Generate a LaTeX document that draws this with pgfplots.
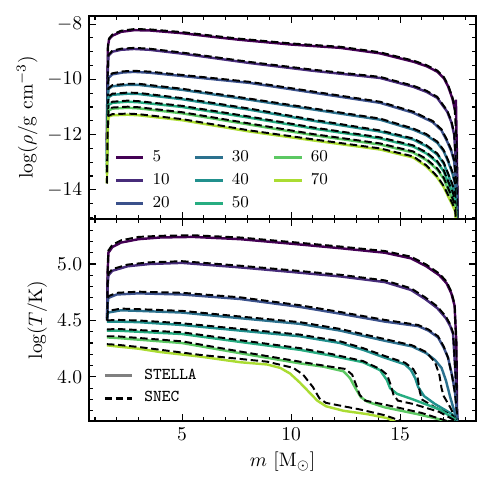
\documentclass[border=0pt]{standalone}
\usepackage{pgfplots}
\pgfplotsset{compat=1.18}

% viridis samples for the eight masses
\definecolor{c5}{RGB}{68,1,84}
\definecolor{c10}{RGB}{71,44,122}
\definecolor{c20}{RGB}{59,81,139}
\definecolor{c30}{RGB}{44,113,142}
\definecolor{c40}{RGB}{33,144,141}
\definecolor{c50}{RGB}{39,173,129}
\definecolor{c60}{RGB}{92,200,99}
\definecolor{c70}{RGB}{170,220,50}

\newcommand{\legfont}{\fontsize{8.5}{10}\selectfont}

\pgfplotsset{
  panel/.style={
    scale only axis, width=198.3pt,
    xmin=0.73, xmax=18.49,
    xtick={5,10,15}, minor xtick={1,2,...,18},
    tick align=inside, major tick length=3.5pt, minor tick length=2pt,
    every tick/.style={black, line width=0.6pt},
    axis line style={line width=0.8pt},
    clip=true,
    legend image code/.code={\draw[#1, line width=1.5pt] (0pt,0pt) -- (14pt,0pt);},
  },
  stella/.style={line width=1.25pt},
  snec/.style={black, line width=1.0pt, dash pattern=on 3.8pt off 1.9pt},
}

\begin{document}
\begin{tikzpicture}
\path[use as bounding box] (0,0) rectangle (252pt,252pt);

% ---------------- density ----------------
\begin{axis}[panel,
  at={(45.6pt,139.9pt)}, anchor=south west, height=104pt,
  ymin=-15.05, ymax=-7.7,
  ytick={-14,-12,-10,-8}, minor ytick={-15,-14.5,...,-8},
  xticklabels={},
  ylabel={$\log(\rho/\mathrm{g\ cm^{-3}})$},
  ylabel style={at={(axis description cs:-0.16,0.5)}, anchor=center},
  legend columns=3,
  legend cell align=left,
  legend style={at={(axis description cs:0.05,0.377)}, anchor=north west,
    draw=none, fill=none, font=\legfont, row sep=0.6pt,
    /tikz/every odd column/.append style={column sep=2pt},
    /tikz/every even column/.append style={column sep=4pt}},
]
\addlegendimage{c5}\addlegendentry{\makebox[15pt][l]{5}}
\addlegendimage{c30}\addlegendentry{\makebox[15pt][l]{30}}
\addlegendimage{c60}\addlegendentry{\makebox[15pt][l]{60}}
\addlegendimage{c10}\addlegendentry{\makebox[15pt][l]{10}}
\addlegendimage{c40}\addlegendentry{\makebox[15pt][l]{40}}
\addlegendimage{c70}\addlegendentry{\makebox[15pt][l]{70}}
\addlegendimage{c20}\addlegendentry{\makebox[15pt][l]{20}}
\addlegendimage{c50}\addlegendentry{\makebox[15pt][l]{50}}

% 5 Msun
\addplot[c5, stella, forget plot] coordinates {(1.55,-12.2)(1.57,-10.4)(1.60,-8.8)(1.65,-8.55)(1.8,-8.42)(2.2,-8.28)(2.8,-8.22)(3.5,-8.23)(5,-8.33)(6.5,-8.47)(7.66,-8.57)(10,-8.74)(12.25,-8.86)(14.08,-9.06)(15.6,-9.36)(16.2,-9.52)(16.7,-9.72)(17.0,-9.95)(17.2,-10.25)(17.4,-10.7)(17.5,-11.05)(17.56,-10.74)(17.6,-12.5)(17.65,-15.5)};
\addplot[snec, forget plot] coordinates {(1.55,-12.2)(1.57,-10.4)(1.60,-8.78)(1.65,-8.52)(1.8,-8.38)(2.2,-8.24)(2.8,-8.18)(3.5,-8.19)(5,-8.29)(6.5,-8.43)(7.66,-8.53)(10,-8.70)(12.25,-8.82)(14.08,-9.02)(15.6,-9.32)(16.2,-9.48)(16.7,-9.68)(17.0,-9.91)(17.2,-10.2)(17.4,-10.65)(17.5,-11.0)(17.6,-12.5)(17.65,-15.5)};
% 10 Msun
\addplot[c10, stella, forget plot] coordinates {(1.55,-12.4)(1.58,-10.0)(1.62,-9.15)(1.8,-9.0)(2.2,-8.93)(2.8,-8.9)(3.5,-8.93)(5,-9.07)(8.1,-9.41)(11,-9.69)(14.08,-9.95)(15.6,-10.27)(16.2,-10.45)(16.7,-10.67)(17.16,-11.17)(17.35,-11.55)(17.48,-12.0)(17.6,-13.5)(17.65,-15.5)};
\addplot[snec, forget plot] coordinates {(1.55,-12.4)(1.58,-10.0)(1.62,-9.12)(1.8,-8.96)(2.2,-8.89)(2.8,-8.86)(3.5,-8.89)(5,-9.03)(8.1,-9.37)(11,-9.65)(14.08,-9.91)(15.6,-10.23)(16.2,-10.41)(16.7,-10.63)(17.16,-11.13)(17.35,-11.5)(17.48,-11.95)(17.6,-13.5)(17.65,-15.5)};
% 20 Msun
\addplot[c20, stella, forget plot] coordinates {(1.55,-12.6)(1.58,-10.6)(1.62,-9.95)(1.8,-9.82)(2.3,-9.75)(2.8,-9.73)(3.5,-9.76)(5,-9.88)(8.1,-10.13)(11,-10.48)(14.08,-10.85)(15.6,-11.21)(16.5,-11.55)(16.9,-11.85)(17.16,-12.25)(17.35,-12.6)(17.48,-12.97)(17.6,-14.0)(17.65,-15.5)};
\addplot[snec, forget plot] coordinates {(1.55,-12.6)(1.58,-10.6)(1.62,-9.92)(1.8,-9.78)(2.3,-9.71)(2.8,-9.69)(3.5,-9.72)(5,-9.84)(8.1,-10.09)(11,-10.44)(14.08,-10.81)(15.6,-11.17)(16.5,-11.51)(16.9,-11.81)(17.16,-12.2)(17.35,-12.55)(17.48,-12.92)(17.6,-14.0)(17.65,-15.5)};
% 30 Msun
\addplot[c30, stella, forget plot] coordinates {(1.55,-12.8)(1.58,-11.0)(1.62,-10.35)(1.8,-10.25)(2.5,-10.2)(3.0,-10.2)(5,-10.38)(8.1,-10.74)(11,-11.09)(14.08,-11.46)(15.6,-11.82)(16.2,-12.02)(16.7,-12.29)(17.0,-12.6)(17.2,-12.97)(17.4,-13.4)(17.52,-13.8)(17.62,-15.5)};
\addplot[snec, forget plot] coordinates {(1.55,-12.8)(1.58,-11.0)(1.62,-10.32)(1.8,-10.21)(2.5,-10.16)(3.0,-10.16)(5,-10.34)(8.1,-10.70)(11,-11.05)(14.08,-11.42)(15.6,-11.78)(16.2,-11.98)(16.7,-12.25)(17.0,-12.56)(17.2,-12.92)(17.4,-13.35)(17.52,-13.75)(17.62,-15.5)};
% 40 Msun
\addplot[c40, stella, forget plot] coordinates {(1.55,-13.0)(1.58,-11.3)(1.62,-10.65)(1.8,-10.56)(2.5,-10.52)(3.0,-10.53)(5,-10.72)(8.1,-11.1)(11,-11.5)(14.08,-11.89)(15.6,-12.18)(16.2,-12.42)(16.7,-12.72)(17.0,-13.05)(17.2,-13.44)(17.4,-13.85)(17.52,-14.16)(17.62,-15.5)};
\addplot[snec, forget plot] coordinates {(1.55,-13.0)(1.58,-11.3)(1.62,-10.62)(1.8,-10.52)(2.5,-10.48)(3.0,-10.49)(5,-10.68)(8.1,-11.06)(11,-11.46)(14.08,-11.85)(15.6,-12.14)(16.2,-12.38)(16.7,-12.68)(17.0,-13.01)(17.2,-13.4)(17.4,-13.8)(17.52,-14.11)(17.62,-15.5)};
% 50 Msun
\addplot[c50, stella, forget plot] coordinates {(1.55,-13.2)(1.58,-11.6)(1.62,-10.93)(1.8,-10.85)(2.5,-10.81)(3.0,-10.83)(5,-11.0)(8.1,-11.39)(11,-11.78)(14.08,-12.14)(15.6,-12.43)(16.2,-12.68)(16.7,-13.0)(17.0,-13.33)(17.2,-13.73)(17.4,-14.1)(17.52,-14.4)(17.62,-15.5)};
\addplot[snec, forget plot] coordinates {(1.55,-13.2)(1.58,-11.6)(1.62,-10.9)(1.8,-10.81)(2.5,-10.77)(3.0,-10.79)(5,-10.96)(8.1,-11.35)(11,-11.74)(14.08,-12.10)(15.6,-12.39)(16.2,-12.64)(16.7,-12.96)(17.0,-13.29)(17.2,-13.68)(17.4,-14.05)(17.52,-14.35)(17.62,-15.5)};
% 60 Msun
\addplot[c60, stella, forget plot] coordinates {(1.55,-13.4)(1.58,-11.8)(1.62,-11.13)(1.8,-11.06)(2.5,-11.03)(3.0,-11.05)(5,-11.23)(8.1,-11.64)(11,-12.02)(14.08,-12.36)(15.6,-12.65)(16.2,-12.92)(16.7,-13.26)(17.0,-13.6)(17.2,-13.98)(17.4,-14.35)(17.52,-14.6)(17.62,-15.5)};
\addplot[snec, forget plot] coordinates {(1.55,-13.4)(1.58,-11.8)(1.62,-11.1)(1.8,-11.02)(2.5,-10.99)(3.0,-11.01)(5,-11.19)(8.1,-11.60)(11,-11.98)(14.08,-12.32)(15.6,-12.61)(16.2,-12.88)(16.7,-13.22)(17.0,-13.56)(17.2,-13.93)(17.4,-14.3)(17.52,-14.55)(17.62,-15.5)};
% 70 Msun
\addplot[c70, stella, forget plot] coordinates {(1.55,-13.77)(1.58,-12.0)(1.62,-11.35)(1.8,-11.3)(2.5,-11.28)(3.0,-11.3)(5,-11.48)(8.1,-11.89)(11,-12.21)(14.08,-12.54)(15.6,-12.83)(16.2,-13.15)(16.7,-13.55)(17.0,-13.9)(17.2,-14.23)(17.4,-14.55)(17.52,-14.77)(17.62,-15.5)};
\addplot[snec, forget plot] coordinates {(1.55,-13.77)(1.58,-12.0)(1.62,-11.32)(1.8,-11.26)(2.5,-11.24)(3.0,-11.26)(5,-11.44)(8.1,-11.85)(11,-12.17)(14.08,-12.50)(15.6,-12.79)(16.2,-13.11)(16.7,-13.51)(17.0,-13.86)(17.2,-14.18)(17.4,-14.5)(17.52,-14.72)(17.62,-15.5)};
\end{axis}

% ---------------- temperature ----------------
\begin{axis}[panel,
  at={(45.6pt,36.4pt)}, anchor=south west, height=103.5pt,
  ymin=3.61, ymax=5.40,
  ytick={4.0,4.5,5.0}, minor ytick={3.7,3.8,...,5.35},
  yticklabel style={/pgf/number format/fixed, /pgf/number format/fixed zerofill, /pgf/number format/precision=1},
  xlabel={$m$ [M$_\odot$]},
  ylabel={$\log(T/\mathrm{K})$},
  ylabel style={at={(axis description cs:-0.134,0.5)}, anchor=center},
  xlabel style={at={(axis description cs:0.5,-0.2)}, anchor=center},
  legend cell align=left,
  legend style={at={(axis description cs:0.021,0.2985)}, anchor=north west,
    draw=none, fill=none, font=\legfont, row sep=0.8pt,
    /tikz/every odd column/.append style={column sep=3.5pt}},
]
\addlegendimage{gray}\addlegendentry{\texttt{STELLA}}
\addlegendimage{snec}\addlegendentry{\texttt{SNEC}}

% 5 Msun
\addplot[c5, stella, forget plot] coordinates {(1.56,4.52)(1.58,4.9)(1.62,5.1)(1.8,5.15)(2.2,5.19)(3,5.22)(4,5.235)(5.5,5.24)(7.66,5.22)(10,5.18)(12.25,5.14)(14.3,5.1)(15.5,5.05)(16.2,4.98)(16.8,4.9)(17.13,4.83)(17.35,4.74)(17.5,4.63)(17.58,4.3)(17.62,3.55)};
\addplot[snec, forget plot] coordinates {(1.56,4.52)(1.58,4.92)(1.62,5.12)(1.8,5.17)(2.2,5.21)(3,5.24)(4,5.25)(5.5,5.255)(7.66,5.235)(10,5.195)(12.25,5.155)(14.3,5.115)(15.5,5.065)(16.2,4.995)(16.8,4.915)(17.13,4.845)(17.35,4.755)(17.5,4.645)(17.58,4.3)(17.62,3.55)};
% 10 Msun
\addplot[c10, stella, forget plot] coordinates {(1.56,4.5)(1.58,4.8)(1.62,4.9)(1.8,4.94)(2.5,4.98)(3.5,5.0)(5,5.01)(7.66,4.97)(10,4.93)(12.25,4.89)(14.3,4.84)(15.5,4.77)(16.15,4.69)(16.7,4.61)(17.1,4.52)(17.3,4.45)(17.43,4.38)(17.55,4.0)(17.62,3.55)};
\addplot[snec, forget plot] coordinates {(1.56,4.5)(1.58,4.81)(1.62,4.915)(1.8,4.955)(2.5,4.995)(3.5,5.015)(5,5.025)(7.66,4.985)(10,4.945)(12.25,4.905)(14.3,4.855)(15.5,4.785)(16.15,4.705)(16.7,4.625)(17.1,4.535)(17.3,4.465)(17.43,4.39)(17.55,4.0)(17.62,3.55)};
% 20 Msun
\addplot[c20, stella, forget plot] coordinates {(1.56,4.5)(1.58,4.65)(1.62,4.7)(2,4.73)(3,4.74)(5,4.73)(7.66,4.69)(10.4,4.62)(12.25,4.56)(14.3,4.49)(15.83,4.45)(16.3,4.41)(16.74,4.35)(17.0,4.26)(17.2,4.17)(17.4,4.0)(17.52,3.86)(17.66,3.58)};
\addplot[snec, forget plot] coordinates {(1.56,4.5)(1.58,4.66)(1.62,4.715)(2,4.745)(3,4.755)(5,4.745)(7.66,4.705)(10.4,4.635)(12.25,4.575)(14.3,4.505)(15.83,4.46)(16.3,4.42)(16.74,4.36)(17.0,4.27)(17.2,4.17)(17.4,3.99)(17.52,3.85)(17.66,3.58)};
% 30 Msun
\addplot[c30, stella, forget plot] coordinates {(1.56,4.52)(1.6,4.57)(2.2,4.59)(3,4.585)(5,4.57)(7.66,4.52)(10.4,4.47)(12.25,4.41)(14.3,4.32)(15.55,4.27)(16.2,4.21)(16.6,4.15)(16.9,4.08)(17.1,3.97)(17.3,3.82)(17.45,3.72)(17.62,3.6)};
\addplot[snec, forget plot] coordinates {(1.56,4.52)(1.6,4.585)(2.2,4.605)(3,4.6)(5,4.585)(7.66,4.535)(10.4,4.485)(12.25,4.425)(14.3,4.335)(15.55,4.28)(16.2,4.22)(16.6,4.13)(16.8,4.02)(16.9,3.9)(17.0,3.83)(17.3,3.73)(17.62,3.6)};
% 40 Msun
\addplot[c40, stella, forget plot] coordinates {(1.55,4.49)(2,4.49)(3,4.485)(5,4.46)(7.66,4.41)(10.4,4.36)(12.25,4.30)(13.3,4.24)(14.3,4.17)(15.23,4.11)(15.5,4.06)(15.69,3.99)(15.83,3.91)(16.1,3.83)(16.6,3.76)(17.39,3.67)(17.62,3.6)};
\addplot[snec, forget plot] coordinates {(1.55,4.50)(2,4.505)(3,4.5)(5,4.475)(7.66,4.425)(10.4,4.375)(12.25,4.315)(13.3,4.255)(14.3,4.185)(15.23,4.125)(15.6,4.07)(15.8,4.0)(15.9,3.87)(16.0,3.8)(16.6,3.73)(17.4,3.66)(17.62,3.6)};
% 50 Msun
\addplot[c50, stella, forget plot] coordinates {(1.55,4.41)(2,4.41)(3,4.40)(5,4.38)(7.66,4.31)(10.4,4.24)(11.8,4.19)(13.3,4.13)(14.08,4.06)(14.4,3.97)(14.54,3.90)(14.86,3.85)(15.6,3.80)(16.83,3.71)(17.55,3.62)};
\addplot[snec, forget plot] coordinates {(1.55,4.42)(2,4.425)(3,4.415)(5,4.395)(7.66,4.325)(10.4,4.255)(11.8,4.205)(13.3,4.14)(14.08,4.07)(14.4,4.02)(14.55,3.94)(14.7,3.84)(14.9,3.79)(15.6,3.76)(16.8,3.69)(17.55,3.61)};
% 60 Msun
\addplot[c60, stella, forget plot] coordinates {(1.55,4.35)(2,4.345)(3,4.33)(5,4.30)(7.66,4.21)(10.4,4.12)(11.5,4.09)(12.4,4.05)(12.7,3.99)(12.95,3.9)(13.2,3.82)(13.5,3.78)(14.3,3.73)(15.8,3.67)(16.9,3.62)(17.2,3.6)};
\addplot[snec, forget plot] coordinates {(1.55,4.36)(2,4.36)(3,4.345)(5,4.315)(7.66,4.225)(10.4,4.135)(11.5,4.1)(12.5,4.07)(12.8,4.02)(13.0,3.92)(13.15,3.84)(13.4,3.79)(14.4,3.75)(16.0,3.68)(17.3,3.6)};
% 70 Msun
\addplot[c70, stella, forget plot] coordinates {(1.55,4.28)(2,4.27)(3,4.25)(4,4.22)(5.83,4.18)(7.66,4.13)(8.9,4.11)(9.5,4.08)(9.95,4.03)(10.4,3.95)(10.8,3.87)(11.2,3.79)(11.6,3.74)(12.4,3.70)(13.5,3.67)(14.4,3.635)(14.8,3.6)};
\addplot[snec, forget plot] coordinates {(1.55,4.29)(2,4.285)(3,4.265)(5.83,4.195)(8.9,4.135)(10.1,4.08)(10.55,4.02)(11.0,3.91)(11.3,3.81)(11.6,3.77)(13.2,3.71)(14.3,3.66)(15.2,3.6)};
\end{axis}
\end{tikzpicture}
\end{document}
